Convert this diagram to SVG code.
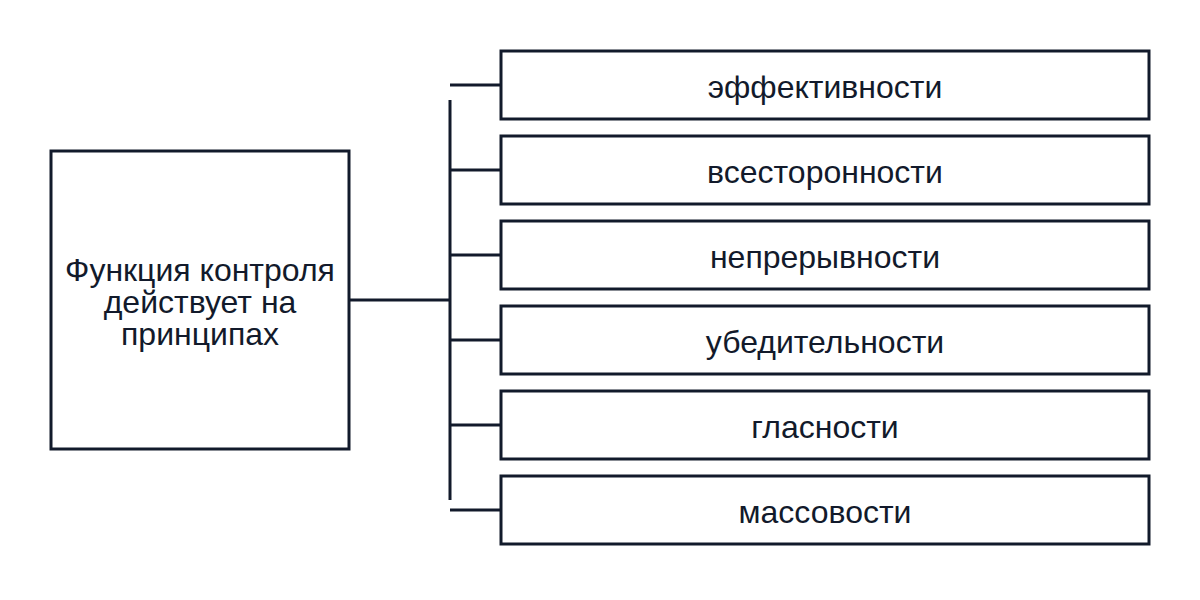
<svg xmlns="http://www.w3.org/2000/svg" width="1200" height="600" viewBox="0 0 1200 600">
<style>
.b{fill:#fff;stroke:#121a2b;stroke-width:3}
.t{font-family:"Liberation Sans",Arial,sans-serif;font-size:32px;fill:#121a2b;text-anchor:middle}
.c{stroke:#121a2b;stroke-width:3;fill:none}
</style>
<rect width="1200" height="600" fill="#fff"/>
<g id="connectors">
<path class="c" d="M349 300H450M450 100V500M450 85H501M450 170H501M450 255H501M450 340H501M450 425H501M450 510H501"/>
</g>
<g id="main"><rect class="b" x="51" y="151" width="298" height="298"/>
<text class="t" x="200" y="281">Функция контроля</text><text class="t" x="200" y="313">действует на</text><text class="t" x="200" y="345">принципах</text></g>
<g id="n1"><rect class="b" x="501" y="51" width="648" height="68"/><text class="t" x="825" y="98">эффективности</text></g>
<g id="n2"><rect class="b" x="501" y="136" width="648" height="68"/><text class="t" x="825" y="183">всесторонности</text></g>
<g id="n3"><rect class="b" x="501" y="221" width="648" height="68"/><text class="t" x="825" y="268">непрерывности</text></g>
<g id="n4"><rect class="b" x="501" y="306" width="648" height="68"/><text class="t" x="825" y="353">убедительности</text></g>
<g id="n5"><rect class="b" x="501" y="391" width="648" height="68"/><text class="t" x="825" y="438">гласности</text></g>
<g id="n6"><rect class="b" x="501" y="476" width="648" height="68"/><text class="t" x="825" y="523">массовости</text></g>
</svg>
